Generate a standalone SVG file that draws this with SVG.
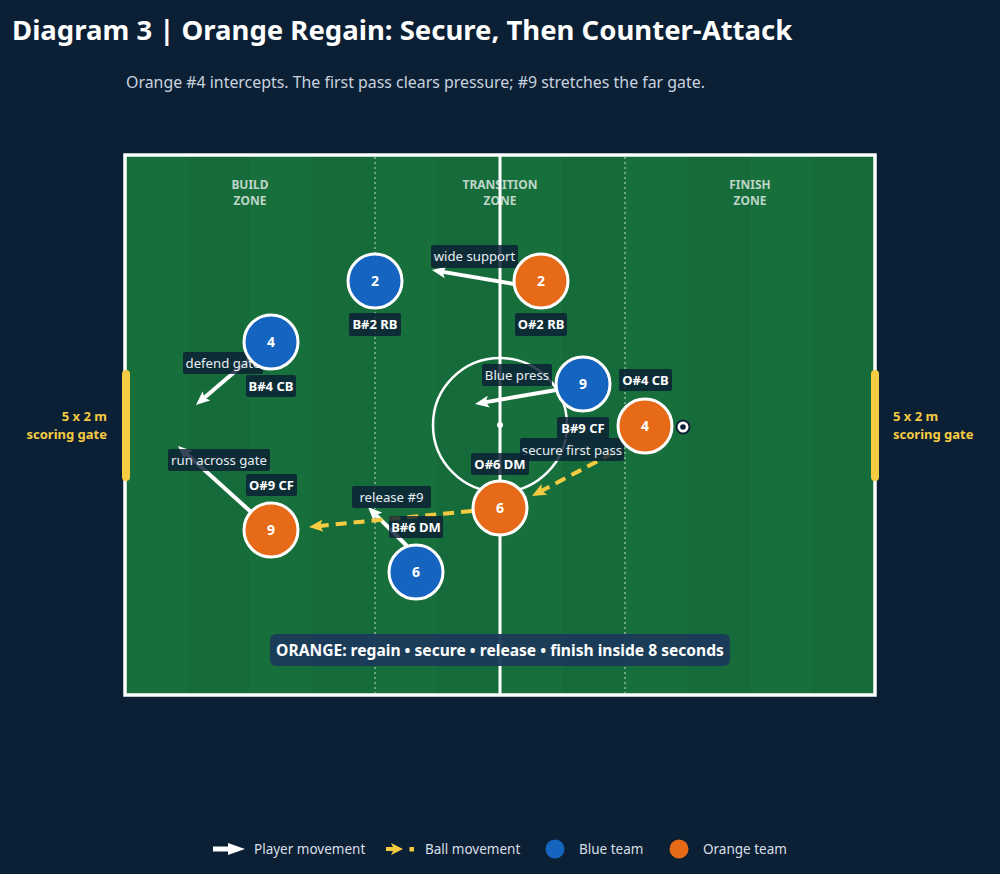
<svg xmlns="http://www.w3.org/2000/svg" width="1000" height="874" viewBox="0 0 1000 874">
<defs>
<style>
text{font-family:"Noto Sans","Open Sans","DejaVu Sans",sans-serif}
.title{font-size:27.5px;font-weight:700;fill:#ffffff}
.sub{font-size:15.9px;fill:#c9d3df}
.zone{font-size:12px;font-weight:700;fill:#ffffff;fill-opacity:.72;text-anchor:middle}
.gate{fill:#f5cb42}
.gtxt{font-size:13px;font-weight:700;fill:#f5cb42}
.line{stroke:#ffffff;fill:none}
.mv{stroke:#ffffff;stroke-width:4;fill:none;marker-end:url(#hw)}
.ball{stroke:#f5cb42;stroke-width:4;fill:none;stroke-dasharray:11 7;marker-end:url(#hy)}
.lbox{fill:#0b1f35;fill-opacity:.82}
.ltxt{font-size:13.2px;fill:#e8eef4;text-anchor:middle}
.ttxt{font-size:13px;font-weight:700;fill:#ffffff;text-anchor:middle}
.blue{fill:#1565c0;stroke:#ffffff;stroke-width:3}
.orange{fill:#e66a17;stroke:#ffffff;stroke-width:3}
.num{font-size:14px;font-weight:700;fill:#ffffff;text-anchor:middle}
.leg{font-size:13.5px;fill:#d9dfe7}
</style>
<marker id="hw" viewBox="0 0 14 12" markerWidth="14" markerHeight="12" refX="3" refY="6" orient="auto" markerUnits="userSpaceOnUse">
<path d="M0,0 L14,6 L0,12 L3,6 Z" fill="#ffffff"/>
</marker>
<marker id="hy" viewBox="0 0 14 12" markerWidth="14" markerHeight="12" refX="3" refY="6" orient="auto" markerUnits="userSpaceOnUse">
<path d="M0,0 L14,6 L0,12 L3,6 Z" fill="#f5cb42"/>
</marker>
</defs>
<rect width="1000" height="874" fill="#0b1f35"/>
<text class="title" x="12" y="40">Diagram 3 | Orange Regain: Secure, Then Counter-Attack</text>
<text class="sub" x="126" y="88">Orange #4 intercepts. The first pass clears pressure; #9 stretches the far gate.</text>

<g id="field">
<rect x="125" y="155" width="750" height="540" fill="#176f3c"/>
<g fill="#000000" fill-opacity="0.03">
<rect x="187.5" y="155" width="62.5" height="540"/>
<rect x="312.5" y="155" width="62.5" height="540"/>
<rect x="437.5" y="155" width="62.5" height="540"/>
<rect x="562.5" y="155" width="62.5" height="540"/>
<rect x="687.5" y="155" width="62.5" height="540"/>
<rect x="812.5" y="155" width="62.5" height="540"/>
</g>
<line x1="375" y1="157" x2="375" y2="693" stroke="#ffffff" stroke-opacity=".65" stroke-width="1.2" stroke-dasharray="2 3"/>
<line x1="625" y1="157" x2="625" y2="693" stroke="#ffffff" stroke-opacity=".65" stroke-width="1.2" stroke-dasharray="2 3"/>
<line class="line" x1="500" y1="155" x2="500" y2="695" stroke-width="3"/>
<circle class="line" cx="500" cy="425" r="67" stroke-width="2.5"/>
<circle cx="500" cy="425" r="3" fill="#ffffff"/>
<rect class="line" x="125" y="155" width="750" height="540" stroke-width="3.5"/>
<text class="zone" x="250" y="189">BUILD</text>
<text class="zone" x="250" y="205">ZONE</text>
<text class="zone" x="500" y="189">TRANSITION</text>
<text class="zone" x="500" y="205">ZONE</text>
<text class="zone" x="750" y="189">FINISH</text>
<text class="zone" x="750" y="205">ZONE</text>
</g>

<g id="gate-left">
<rect class="gate" x="122" y="370" width="8" height="111" rx="4"/>
<text class="gtxt" x="107" y="421" text-anchor="end">5 x 2 m</text>
<text class="gtxt" x="107" y="439" text-anchor="end">scoring gate</text>
</g>
<g id="gate-right">
<rect class="gate" x="871" y="370" width="8" height="111" rx="4"/>
<text class="gtxt" x="893" y="421">5 x 2 m</text>
<text class="gtxt" x="893" y="439">scoring gate</text>
</g>

<g id="connectors">
<line class="mv" x1="514" y1="284" x2="442.8" y2="271.9"/>
<line class="mv" x1="252" y1="357" x2="204.3" y2="397.8"/>
<line class="mv" x1="556" y1="390" x2="485.8" y2="402.1"/>
<line class="mv" x1="251" y1="512" x2="186.2" y2="453.4"/>
<line class="mv" x1="407" y1="546" x2="375.8" y2="514.8"/>
<line class="ball" x1="613" y1="453" x2="541.7" y2="490.8"/>
<line class="ball" x1="472" y1="511" x2="319.9" y2="525.9"/>
</g>

<g id="connector-labels">
<g id="lbl-wide-support"><rect class="lbox" x="431" y="245" width="87" height="23" rx="2"/><text class="ltxt" x="474.5" y="261">wide support</text></g>
<g id="lbl-defend-gate"><rect class="lbox" x="183" y="352" width="80" height="22" rx="2"/><text class="ltxt" x="223" y="368">defend gate</text></g>
<g id="lbl-blue-press"><rect class="lbox" x="482" y="364" width="70" height="22" rx="2"/><text class="ltxt" x="517" y="380">Blue press</text></g>
<g id="lbl-run-across"><rect class="lbox" x="168" y="449" width="102" height="22" rx="2"/><text class="ltxt" x="219" y="465">run across gate</text></g>
<g id="lbl-release"><rect class="lbox" x="352" y="486" width="79" height="22" rx="2"/><text class="ltxt" x="391.5" y="502">release #9</text></g>
<g id="lbl-secure"><rect class="lbox" x="520" y="438" width="104" height="23" rx="2"/><text class="ltxt" x="572" y="455">secure first pass</text></g>
</g>

<g id="ball-marker">
<circle cx="683" cy="427" r="6.5" fill="#ffffff" stroke="#0b1f35" stroke-width="2"/>
<circle cx="683" cy="427" r="2.8" fill="#0b1f35"/>
</g>

<g id="blue-2"><circle class="blue" cx="375" cy="281" r="27"/><text class="num" x="375" y="286">2</text><rect class="lbox" x="349" y="313" width="52" height="23" rx="2"/><text class="ttxt" x="375" y="329">B#2 RB</text></g>
<g id="orange-2"><circle class="orange" cx="541" cy="281" r="27"/><text class="num" x="541" y="286">2</text><rect class="lbox" x="515" y="313" width="52" height="23" rx="2"/><text class="ttxt" x="541" y="329">O#2 RB</text></g>
<g id="blue-4"><circle class="blue" cx="271" cy="342" r="27"/><text class="num" x="271" y="347">4</text><rect class="lbox" x="246" y="375" width="50" height="22" rx="2"/><text class="ttxt" x="271" y="391">B#4 CB</text></g>
<g id="blue-9"><circle class="blue" cx="583" cy="384" r="27"/><text class="num" x="583" y="389">9</text><rect class="lbox" x="557" y="417" width="52" height="22" rx="2"/><text class="ttxt" x="583" y="433">B#9 CF</text></g>
<g id="orange-4"><circle class="orange" cx="645" cy="426" r="27"/><text class="num" x="645" y="431">4</text><rect class="lbox" x="619" y="369" width="53" height="22" rx="2"/><text class="ttxt" x="645.5" y="385">O#4 CB</text></g>
<g id="orange-6"><circle class="orange" cx="500" cy="508" r="27"/><text class="num" x="500" y="513">6</text><rect class="lbox" x="471" y="453" width="58" height="22" rx="2"/><text class="ttxt" x="500" y="469">O#6 DM</text></g>
<g id="orange-9"><circle class="orange" cx="271" cy="530" r="27"/><text class="num" x="271" y="535">9</text><rect class="lbox" x="246" y="474" width="51" height="22" rx="2"/><text class="ttxt" x="271.5" y="490">O#9 CF</text></g>
<g id="blue-6"><circle class="blue" cx="416" cy="572" r="27"/><text class="num" x="416" y="577">6</text><rect class="lbox" x="389" y="516" width="54" height="22" rx="2"/><text class="ttxt" x="416" y="532">B#6 DM</text></g>

<g id="banner">
<rect x="270" y="634" width="460" height="32" rx="6" fill="#1b3a5a" fill-opacity="0.95"/>
<text x="500" y="656" font-size="15.6" font-weight="700" fill="#ffffff" text-anchor="middle">ORANGE: regain • secure • release • finish inside 8 seconds</text>
</g>

<g id="legend">
<line x1="213" y1="849" x2="232" y2="849" stroke="#ffffff" stroke-width="5"/>
<path d="M228,843 L245,849 L228,855 Z" fill="#ffffff"/>
<text class="leg" x="254" y="854">Player movement</text>
<line x1="386" y1="849" x2="396" y2="849" stroke="#f5cb42" stroke-width="4"/>
<path d="M391,843 L403,849 L391,855 L394,849 Z" fill="#f5cb42"/>
<rect x="409.5" y="847" width="4.5" height="4.5" fill="#f5cb42"/>
<text class="leg" x="425" y="854">Ball movement</text>
<circle cx="555" cy="849" r="9.5" fill="#1565c0"/>
<text class="leg" x="579" y="854">Blue team</text>
<circle cx="679" cy="849" r="9.5" fill="#e66a17"/>
<text class="leg" x="703" y="854">Orange team</text>
</g>
</svg>
